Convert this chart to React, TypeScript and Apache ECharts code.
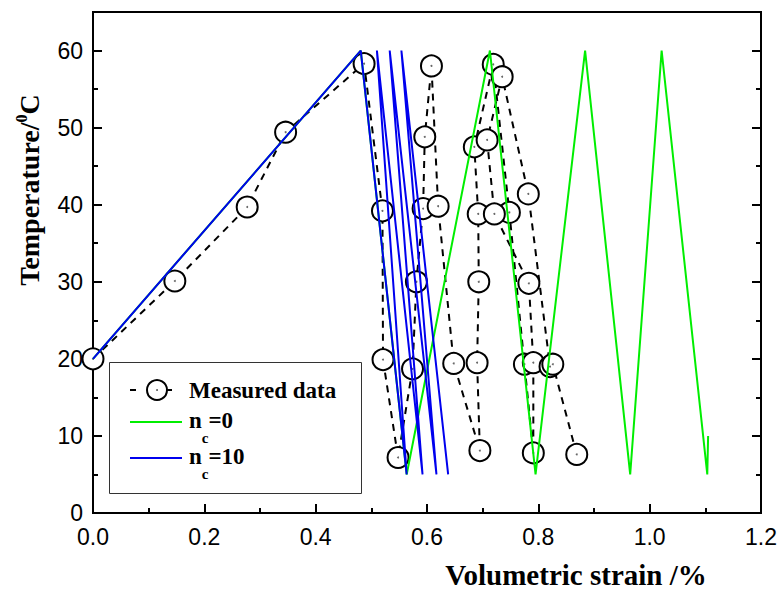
import React, { useEffect, useRef } from "react";
import * as echarts from "echarts";

// Measured data (volumetric strain %, temperature °C), in measurement order
const measuredStrain = [
  0.0, 0.147, 0.277, 0.346, 0.487,
  0.520, 0.521, 0.548,
  0.574, 0.581, 0.593, 0.596, 0.608,
  0.620, 0.648, 0.695,
  0.690, 0.693, 0.692, 0.685, 0.719,
  0.748, 0.775, 0.791,
  0.791, 0.783, 0.721, 0.708, 0.735,
  0.782, 0.821, 0.826, 0.869,
];
const measuredTemp = [
  20.0, 30.1, 39.7, 49.4, 58.3,
  39.2, 19.9, 7.2,
  18.7, 30.0, 39.5, 48.8, 58.0,
  39.8, 19.4, 8.1,
  19.5, 30.0, 38.8, 47.5, 58.2,
  39.0, 19.3, 7.8,
  19.5, 29.8, 38.8, 48.4, 56.6,
  41.4, 19.0, 19.3, 7.6,
];

// Model, n_c = 0
const nc0Strain = [0.0, 0.481, 0.5635, 0.713, 0.795, 0.884, 0.965, 1.0215, 1.1035, 1.105];
const nc0Temp = [20, 60, 5, 60, 5, 60, 5, 60, 5, 10];

// Model, n_c = 10
const nc10Strain = [0.0, 0.481, 0.5635, 0.51, 0.592, 0.533, 0.617, 0.554, 0.638];
const nc10Temp = [20, 60, 5, 60, 5, 60, 5, 60, 5];

const xTickValues = ["0.0", "0.2", "0.4", "0.6", "0.8", "1.0", "1.2"];
const yTickValues = [0, 10, 20, 30, 40, 50, 60];

const legendNames = ["Measured data", "n_c=0", "n_c=10"];

const SERIF = '"Liberation Serif", "Times New Roman", serif';
const SANS = '"Liberation Sans", Arial, sans-serif';

function pairs(xs: number[], ys: number[]) {
  return xs.map((x, i) => [x, ys[i]]);
}

const legendRich = {
  m: { fontFamily: SERIF, fontWeight: "bold", fontSize: 23, verticalAlign: "top", fill: "#000" },
  s: { fontFamily: SERIF, fontWeight: "bold", fontSize: 15, lineHeight: 36, verticalAlign: "bottom", fill: "#000" },
};

export default function App() {
  const ref = useRef<HTMLDivElement>(null);

  useEffect(() => {
    if (!ref.current) return;
    const chart = echarts.init(ref.current, null, { renderer: "svg" });

    const axisCommon = {
      type: "value" as const,
      axisLine: { show: true, lineStyle: { color: "#000", width: 2 } },
      splitLine: { show: false },
    };

    const xMin = 0, xMax = 1.2;
    const yMin = 0, yMax = 65;

    const option: any = {
      animation: false,
      backgroundColor: "#fff",
      grid: {
        left: 93,
        right: 23,
        top: 12,
        bottom: 79,
        show: true,
        borderColor: "#000",
        borderWidth: 2,
        backgroundColor: "transparent",
      },
      xAxis: [
        {
          ...axisCommon,
          position: "bottom",
          min: xMin,
          max: xMax,
          interval: 0.2,
          axisTick: { show: true, inside: true, length: 9, lineStyle: { color: "#000", width: 2 } },
          axisLabel: {
            show: true,
            margin: 12,
            color: "#000",
            fontFamily: SANS,
            fontSize: 23,
            formatter: (v: number) => {
              const idx = Math.round(v / 0.2);
              return xTickValues[idx] ?? v.toFixed(1);
            },
          },
        },
        {
          ...axisCommon,
          position: "bottom",
          min: xMin,
          max: xMax,
          interval: 0.1,
          axisTick: { show: true, inside: true, length: 5, lineStyle: { color: "#000", width: 2 } },
          axisLabel: { show: false },
        },
      ],
      yAxis: [
        {
          ...axisCommon,
          position: "left",
          min: yMin,
          max: yMax,
          interval: 10,
          axisTick: { show: true, inside: true, length: 9, lineStyle: { color: "#000", width: 2 } },
          axisLabel: {
            show: true,
            margin: 10,
            color: "#000",
            fontFamily: SANS,
            fontSize: 23,
            showMaxLabel: false,
            formatter: (v: number) => (yTickValues.indexOf(v) >= 0 ? String(v) : ""),
          },
        },
        {
          ...axisCommon,
          position: "left",
          min: yMin,
          max: yMax,
          interval: 5,
          axisTick: { show: true, inside: true, length: 5, lineStyle: { color: "#000", width: 2 } },
          axisLabel: { show: false },
        },
        {
          ...axisCommon,
          position: "right",
          min: yMin,
          max: yMax,
          interval: 10,
          axisTick: { show: true, inside: true, length: 9, lineStyle: { color: "#000", width: 2 } },
          axisLabel: { show: false },
        },
        {
          ...axisCommon,
          position: "right",
          min: yMin,
          max: yMax,
          interval: 5,
          axisTick: { show: true, inside: true, length: 5, lineStyle: { color: "#000", width: 2 } },
          axisLabel: { show: false },
        },
      ],
      series: [
        {
          name: legendNames[0],
          type: "line",
          xAxisIndex: 0,
          yAxisIndex: 0,
          data: pairs(measuredStrain, measuredTemp),
          clip: false,
          symbol: "circle",
          symbolSize: 21,
          itemStyle: { color: "#fff", borderColor: "#000", borderWidth: 2 },
          lineStyle: { color: "#000", width: 2, type: [7, 6] },
          z: 2,
        },
        {
          name: "dots",
          type: "scatter",
          xAxisIndex: 0,
          yAxisIndex: 0,
          data: pairs(measuredStrain, measuredTemp),
          clip: false,
          symbol: "circle",
          symbolSize: 2,
          itemStyle: { color: "#444" },
          silent: true,
          z: 3,
        },
        {
          name: legendNames[1],
          type: "line",
          xAxisIndex: 0,
          yAxisIndex: 0,
          data: pairs(nc0Strain, nc0Temp),
          symbol: "none",
          lineStyle: { color: "#00ee00", width: 2 },
          z: 4,
        },
        {
          name: legendNames[2],
          type: "line",
          xAxisIndex: 0,
          yAxisIndex: 0,
          data: pairs(nc10Strain, nc10Temp),
          symbol: "none",
          lineStyle: { color: "#0000ee", width: 2 },
          z: 5,
        },
      ],
      graphic: [
        // Legend box
        {
          type: "rect",
          z: 100,
          shape: { x: 109.5, y: 362.5, width: 252, height: 131 },
          style: { fill: "#fff", stroke: "#333", lineWidth: 1 },
        },
        {
          type: "line",
          z: 101,
          shape: { x1: 130, y1: 390, x2: 136, y2: 390 },
          style: { stroke: "#000", lineWidth: 2 },
        },
        {
          type: "line",
          z: 101,
          shape: { x1: 166, y1: 390, x2: 172, y2: 390 },
          style: { stroke: "#000", lineWidth: 2 },
        },
        {
          type: "circle",
          z: 102,
          shape: { cx: 157, cy: 390, r: 10 },
          style: { fill: "#fff", stroke: "#000", lineWidth: 2 },
        },
        {
          type: "circle",
          z: 103,
          shape: { cx: 157, cy: 390, r: 0.9 },
          style: { fill: "#444" },
        },
        {
          type: "text",
          z: 101,
          x: 189,
          y: 390,
          style: {
            text: legendNames[0],
            fill: "#000",
            font: `bold 23px ${SERIF}`,
            align: "left",
            verticalAlign: "middle",
          },
        },
        {
          type: "line",
          z: 101,
          shape: { x1: 130, y1: 422, x2: 182, y2: 422 },
          style: { stroke: "#00ee00", lineWidth: 2 },
        },
        {
          type: "text",
          z: 101,
          x: 189,
          y: 427,
          style: {
            text: "{m|n}{s|c}{m|=0}",
            fill: "#000",
            align: "left",
            verticalAlign: "middle",
            rich: legendRich,
          },
        },
        {
          type: "line",
          z: 101,
          shape: { x1: 130, y1: 458, x2: 182, y2: 458 },
          style: { stroke: "#0000ee", lineWidth: 2 },
        },
        {
          type: "text",
          z: 101,
          x: 189,
          y: 463,
          style: {
            text: "{m|n}{s|c}{m|=10}",
            fill: "#000",
            align: "left",
            verticalAlign: "middle",
            rich: legendRich,
          },
        },
        // Axis titles
        {
          type: "text",
          z: 100,
          x: 576,
          y: 575,
          style: {
            text: "Volumetric strain /%",
            fill: "#000",
            font: `bold 29px ${SERIF}`,
            align: "center",
            verticalAlign: "middle",
          },
        },
        {
          type: "text",
          z: 100,
          x: 28,
          y: 190,
          rotation: Math.PI / 2,
          style: {
            text: "{m|Temperature/}{p|0}{m|C}",
            fill: "#000",
            align: "center",
            verticalAlign: "middle",
            rich: {
              m: { fontFamily: SERIF, fontWeight: "bold", fontSize: 28, lineHeight: 30, verticalAlign: "bottom", fill: "#000" },
              p: { fontFamily: SERIF, fontWeight: "bold", fontSize: 16, verticalAlign: "top", fill: "#000" },
            },
          },
        },
      ],
    };

    chart.setOption(option);
    return () => chart.dispose();
  }, []);

  return (
    <div
      ref={ref}
      style={{ position: "absolute", left: 0, top: 0, width: 784, height: 592, background: "#fff" }}
    />
  );
}
